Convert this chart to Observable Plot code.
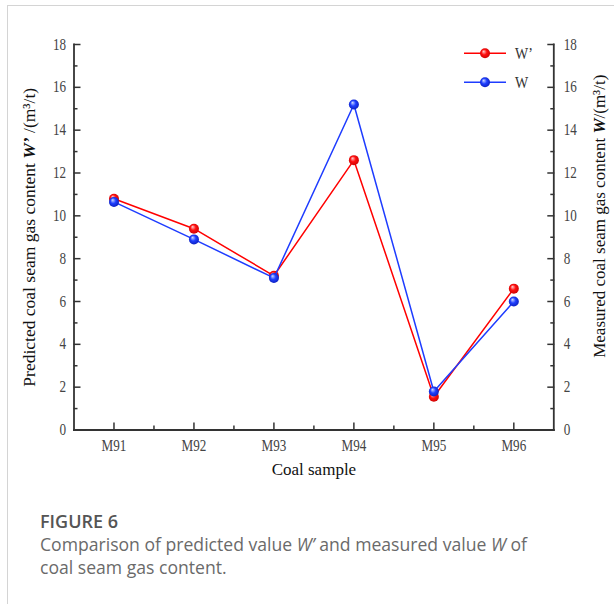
<!DOCTYPE html>
<html>
<head>
<meta charset="utf-8">
<script src="https://cdn.jsdelivr.net/npm/d3@7"></script>
<script src="https://cdn.jsdelivr.net/npm/@observablehq/plot@0.6"></script>
<style>
  body { margin: 0; background: #fff; width: 614px; height: 604px; overflow: hidden; position: relative; }
  #card { position: absolute; left: 7px; top: 5px; width: 700px; height: 700px; border-left: 1px solid #d4d4d4; border-top: 1px solid #d4d4d4; }
  #chart { position: absolute; left: 0; top: 0; }
  #legend { position: absolute; left: 0; top: 0; }
  .fig { position: absolute; left: 40px; top: 510px; font-family: "Open Sans", sans-serif; font-weight: 600; font-size: 18px; line-height: 22px; color: #555; }
  .cap { position: absolute; left: 40px; top: 533px; font-family: "Open Sans", sans-serif; font-weight: 400; font-size: 17.6px; line-height: 22.5px; color: #6a6a6a; white-space: nowrap; }
</style>
</head>
<body>
<div id="card"></div>
<div id="chart"></div>
<svg id="legend" width="614" height="110"></svg>
<div class="fig">FIGURE 6</div>
<div class="cap">Comparison of predicted value <i>W’</i> and measured value <i>W</i> of<br>coal seam gas content.</div>
<script>
// ---- data ----
const samples = ["M91", "M92", "M93", "M94", "M95", "M96"];
const predicted = [10.8, 9.4, 7.2, 12.6, 1.55, 6.6];   // W'
const measured  = [10.65, 8.9, 7.1, 15.2, 1.8, 6.0];   // W
const seriesNames = ["W’", "W"];
const seriesColors = ["#ff0000", "#1e3cff"];
const seriesGradients = ["ballRed", "ballBlue"];
const yMajorTicks = [0, 2, 4, 6, 8, 10, 12, 14, 16, 18];
const yMinorTicks = [1, 3, 5, 7, 9, 11, 13, 15, 17];
const xTitle = "Coal sample";
const yLeftTitle = "Predicted coal seam gas content W’ /(m³/t)";
const yRightTitle = "Measured coal seam gas content W/(m³/t)";

const xIndex = samples.map((s, i) => i + 1);
const xMinor = samples.slice(1).map((s, i) => i + 1.5);
const rowsP = samples.map((s, i) => ({ i: i + 1, sample: s, value: predicted[i] }));
const rowsM = samples.map((s, i) => ({ i: i + 1, sample: s, value: measured[i] }));

// ---- gradients (ball markers) ----
const leg = d3.select("#legend");
const defs = leg.append("defs");
const gradStops = [
  ["ballRed", "#ffd0d0", "#ff1010", "#c00000"],
  ["ballBlue", "#d0dcff", "#2040ff", "#0818b0"]
];
for (const [id, a, b, c] of gradStops) {
  const g = defs.append("radialGradient").attr("id", id).attr("cx", "50%").attr("cy", "50%").attr("r", "60%").attr("fx", "35%").attr("fy", "30%");
  g.append("stop").attr("offset", "0%").attr("stop-color", a);
  g.append("stop").attr("offset", "45%").attr("stop-color", b);
  g.append("stop").attr("offset", "100%").attr("stop-color", c);
}

const axisStyle = { stroke: "#333", strokeWidth: 1.5, fill: "#444", fontSize: 16 };

const plot = Plot.plot({
  width: 614,
  height: 490,
  marginLeft: 73.5,
  marginRight: 60.7,
  marginTop: 44,
  marginBottom: 60.5,
  style: { fontFamily: "'Liberation Serif', serif", fontSize: "16px", background: "transparent", color: "#333" },
  x: { type: "linear", domain: [0.5, 6.5] },
  y: { domain: [0, 18] },
  marks: [
    Plot.axisX({ ...axisStyle, ticks: xIndex, tickFormat: d => samples[d - 1], tickSize: -7, tickPadding: 17, label: null }),
    Plot.axisX({ ...axisStyle, ticks: xMinor, tickFormat: () => "", tickSize: -4, label: null }),
    Plot.axisY({ ...axisStyle, anchor: "left", ticks: yMajorTicks, tickSize: -7, tickPadding: 15, label: null }),
    Plot.axisY({ ...axisStyle, anchor: "left", ticks: yMinorTicks, tickFormat: () => "", tickSize: -4, label: null }),
    Plot.axisY({ ...axisStyle, anchor: "right", ticks: yMajorTicks, tickSize: -7, tickPadding: 17, label: null }),
    Plot.axisY({ ...axisStyle, anchor: "right", ticks: yMinorTicks, tickFormat: () => "", tickSize: -4, label: null }),
    Plot.frame({ anchor: "left", stroke: "#333", strokeWidth: 1.8 }),
    Plot.frame({ anchor: "right", stroke: "#333", strokeWidth: 1.8 }),
    Plot.frame({ anchor: "bottom", stroke: "#333", strokeWidth: 1.8 }),
    Plot.line(rowsP, { x: "i", y: "value", stroke: seriesColors[0], strokeWidth: 1.5 }),
    Plot.dot(rowsP, { x: "i", y: "value", r: 5, fill: `url(#${seriesGradients[0]})`, stroke: "none" }),
    Plot.line(rowsM, { x: "i", y: "value", stroke: seriesColors[1], strokeWidth: 1.5 }),
    Plot.dot(rowsM, { x: "i", y: "value", r: 5, fill: `url(#${seriesGradients[1]})`, stroke: "none" }),
    Plot.text([xTitle], { text: d => d, frameAnchor: "bottom", dy: 44.5, fontSize: 17, fill: "#111", textAnchor: "middle" }),
    Plot.text([yLeftTitle], { text: d => d, frameAnchor: "left", dx: -44.5, dy: 0, rotate: -90, fontSize: 17.5, fill: "#111", textAnchor: "middle" }),
    Plot.text([yRightTitle], { text: d => d, frameAnchor: "right", dx: 46, dy: -21, rotate: -90, fontSize: 17, fill: "#111", textAnchor: "middle" })
  ]
});
document.getElementById("chart").appendChild(plot);

const titleSet = new Set([xTitle, yLeftTitle, yRightTitle]);
// tick labels: tall, narrow serif look
d3.select(plot).selectAll("text").each(function () {
  if (titleSet.has(this.textContent) || this.textContent === "") return;
  this.style.fill = "#444";
  const w = this.getComputedTextLength();
  if (w > 0) {
    this.setAttribute("textLength", (w * 0.82).toFixed(1));
    this.setAttribute("lengthAdjust", "spacingAndGlyphs");
  }
});

// style the W / W' in the axis titles (bold italic)
d3.select(plot).selectAll("text").each(function () {
  const t = this.textContent;
  if (t !== yLeftTitle && t !== yRightTitle) return;
  for (const w of seriesNames.slice().sort((a, b) => b.length - a.length)) {
    const key = "content " + w;
    if (t.includes(key)) {
      const [pre, post] = t.split(key);
      const sel = d3.select(this);
      sel.text(null);
      sel.append("tspan").text(pre + "content ");
      sel.append("tspan").attr("font-style", "italic").attr("font-weight", "bold").text(w);
      sel.append("tspan").text(post);
      break;
    }
  }
});

// ---- legend ----
const legY = [53.3, 82.3];
seriesNames.forEach((name, k) => {
  const g = leg.append("g").attr("transform", `translate(0,${legY[k]})`);
  g.append("line").attr("x1", 464).attr("x2", 506).attr("y1", 0).attr("y2", 0).attr("stroke", seriesColors[k]).attr("stroke-width", 1.5);
  g.append("circle").attr("cx", 485).attr("cy", 0).attr("r", 5).attr("fill", `url(#${seriesGradients[k]})`);
  const t = g.append("text").attr("x", 515).attr("y", 0).attr("dy", "0.35em").attr("font-family", "'Liberation Serif', serif").attr("font-size", 17).attr("fill", "#333").text(name);
  const w = t.node().getComputedTextLength();
  if (w > 0) t.attr("textLength", (w * 0.82).toFixed(1)).attr("lengthAdjust", "spacingAndGlyphs");
});
</script>
</body>
</html>
